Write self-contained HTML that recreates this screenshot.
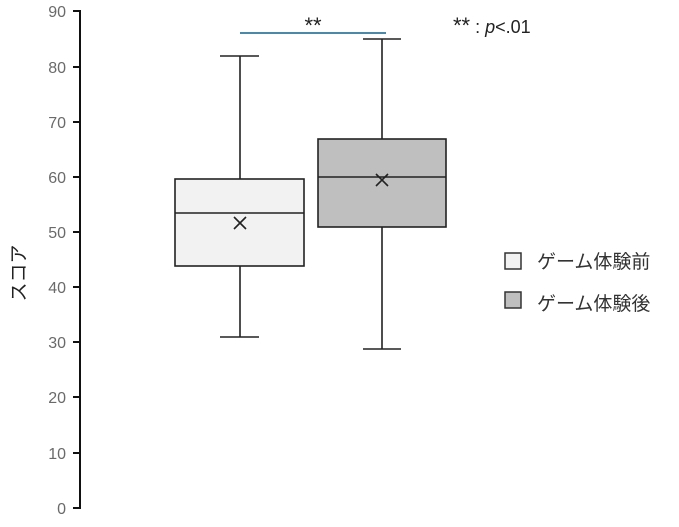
<!DOCTYPE html>
<html><head><meta charset="utf-8"><style>
html,body{margin:0;padding:0;background:#fff;}
</style></head><body>
<svg width="679" height="527" xmlns="http://www.w3.org/2000/svg" style="display:block">
<g font-family="Liberation Sans, sans-serif" font-size="16" fill="#6a6a6a" text-anchor="end">
<text x="66" y="17">90</text><text x="66" y="73">80</text><text x="66" y="128">70</text>
<text x="66" y="183">60</text><text x="66" y="238">50</text><text x="66" y="293">40</text>
<text x="66" y="348">30</text><text x="66" y="403">20</text><text x="66" y="459">10</text>
<text x="66" y="514">0</text>
</g>
<g stroke="#111" stroke-width="2">
<line x1="80" y1="10" x2="80" y2="509"/>
<line x1="73" y1="11" x2="80" y2="11"/><line x1="73" y1="67" x2="80" y2="67"/>
<line x1="73" y1="122" x2="80" y2="122"/><line x1="73" y1="177" x2="80" y2="177"/>
<line x1="73" y1="232" x2="80" y2="232"/><line x1="73" y1="287" x2="80" y2="287"/>
<line x1="73" y1="342" x2="80" y2="342"/><line x1="73" y1="397" x2="80" y2="397"/>
<line x1="73" y1="453" x2="80" y2="453"/><line x1="73" y1="508" x2="80" y2="508"/>
</g>
<text transform="translate(25,273) rotate(-90)" font-family="Liberation Sans, 'Noto Sans CJK JP', sans-serif" font-size="19" fill="#222" text-anchor="middle">スコア</text>
<g stroke="#222" stroke-width="1.6" fill="none">
<line x1="240" y1="56" x2="240" y2="179"/><line x1="220" y1="56" x2="259" y2="56"/>
<line x1="240" y1="266" x2="240" y2="337"/><line x1="220" y1="337" x2="259" y2="337"/>
<rect x="175" y="179" width="129" height="87" fill="#f2f2f2"/>
<line x1="175" y1="213" x2="304" y2="213"/>
<path d="M234 217 L246 229 M246 217 L234 229"/>
<line x1="382" y1="39" x2="382" y2="139"/><line x1="363" y1="39" x2="401" y2="39"/>
<line x1="382" y1="227" x2="382" y2="349"/><line x1="363" y1="349" x2="401" y2="349"/>
<rect x="318" y="139" width="128" height="88" fill="#bfbfbf"/>
<line x1="318" y1="177" x2="446" y2="177"/>
<path d="M376 174 L388 186 M388 174 L376 186"/>
</g>
<line x1="240" y1="33" x2="386" y2="33" stroke="#4a8aa8" stroke-width="2"/>
<text x="313" y="33" font-family="Liberation Sans, sans-serif" font-size="22" fill="#222" text-anchor="middle">**</text>
<text x="453" y="33" font-family="Liberation Sans, sans-serif" font-size="18" fill="#222"><tspan font-size="22">**</tspan> : <tspan font-style="italic">p</tspan>&lt;.01</text>
<rect x="505" y="253" width="16" height="16" fill="#f2f2f2" stroke="#333" stroke-width="1.5"/>
<rect x="505" y="292" width="16" height="16" fill="#bfbfbf" stroke="#333" stroke-width="1.5"/>
<g font-family="Liberation Sans, 'Noto Sans CJK JP', sans-serif" font-size="19" fill="#333">
<text x="537" y="268">ゲーム体験前</text>
<text x="537" y="310">ゲーム体験後</text>
</g>
</svg>
</body></html>
